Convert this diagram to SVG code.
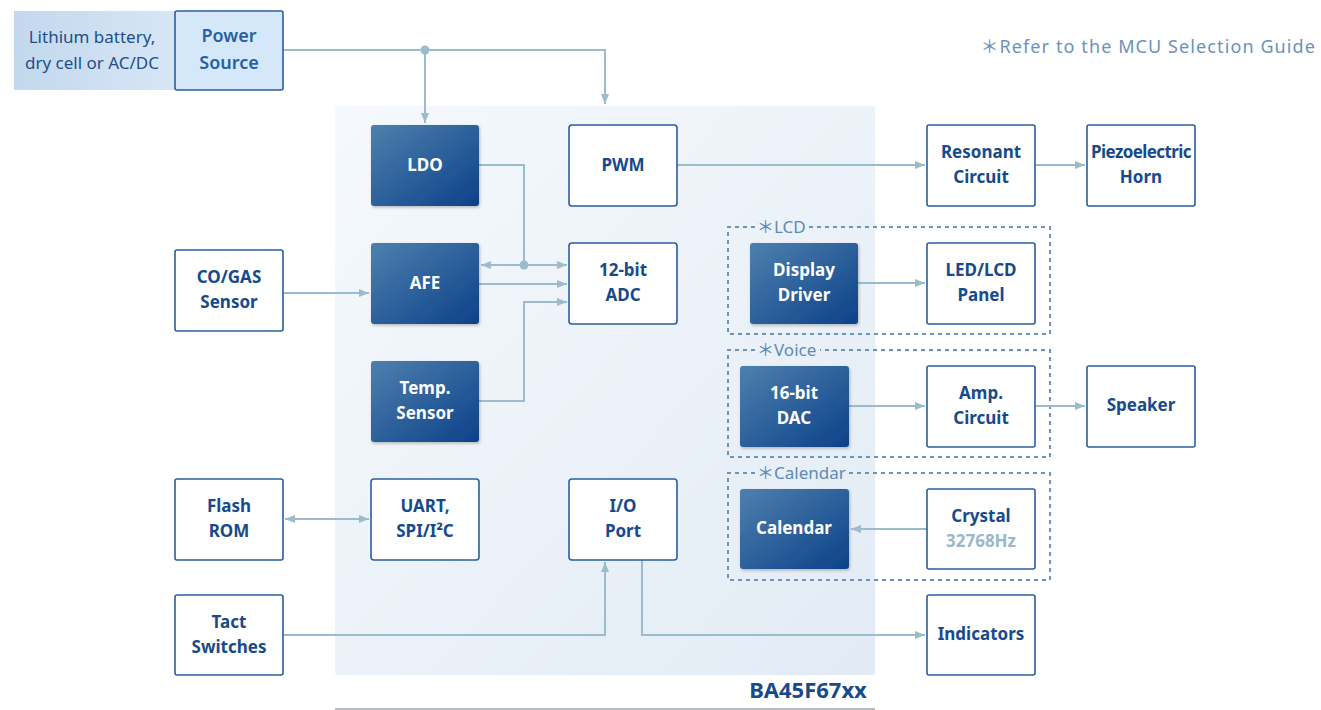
<svg xmlns="http://www.w3.org/2000/svg" width="1321" height="710" viewBox="0 0 1321 710">
<defs>
<linearGradient id="chip" x1="0" y1="0" x2="1" y2="1"><stop offset="0" stop-color="#f5f9fd"/><stop offset="1" stop-color="#e2ebf4"/></linearGradient>
<linearGradient id="dark" x1="0" y1="0" x2="1" y2="1"><stop offset="0" stop-color="#4e80ad"/><stop offset="1" stop-color="#0c4189"/></linearGradient>
<linearGradient id="pale" x1="0" y1="0" x2="1" y2="0"><stop offset="0" stop-color="#c3d8ee"/><stop offset="1" stop-color="#d6e6f5"/></linearGradient>
<marker id="ah" viewBox="0 0 10 10" refX="10" refY="5" markerWidth="10" markerHeight="10" markerUnits="userSpaceOnUse" orient="auto-start-reverse"><path d="M0,1 L10,5 L0,9 z" fill="#9bbccd"/></marker>
<filter id="sh" x="-10%" y="-10%" width="130%" height="130%"><feDropShadow dx="1" dy="1.5" stdDeviation="1.5" flood-color="#000" flood-opacity="0.25"/></filter>
</defs>
<style>
.w{fill:#fff;stroke:#2a5e9e;stroke-width:1.6}
.d{fill:url(#dark);filter:url(#sh)}
.t{font-family:"Noto Sans","DejaVu Sans",sans-serif;font-weight:bold;font-size:17px;fill:#174a8c;text-anchor:middle}
.tw{font-family:"Noto Sans","DejaVu Sans",sans-serif;font-weight:bold;font-size:17px;fill:#fff;text-anchor:middle}
.c{fill:none;stroke:#9bbccd;stroke-width:2}
.g{fill:none;stroke:#6e93bb;stroke-width:2;stroke-dasharray:4 4}
.gl{font-family:"Noto Sans","Noto Sans CJK KR",sans-serif;font-size:17px;fill:#5f8ab5}
.ast{font-family:"Noto Sans CJK KR","Noto Sans CJK JP",sans-serif}
</style>
<rect x="335" y="106" width="540" height="569" rx="3" fill="url(#chip)"/>
<line x1="335" y1="709" x2="875" y2="709" stroke="#9aa4ad" stroke-width="1.5"/>
<text x="808" y="698" font-family="'Noto Sans','DejaVu Sans',sans-serif" font-weight="bold" font-size="22" fill="#174a8c" text-anchor="middle">BA45F67xx</text>
<text x="1316" y="53" font-family="'Noto Sans','Noto Sans CJK KR',sans-serif" font-size="18" fill="#6a92bb" text-anchor="end" letter-spacing="1.1"><tspan class="ast">＊</tspan>Refer to the MCU Selection Guide</text>

<g id="groups">
<path class="g" d="M755,227 H728 V334 H1050 V227 H808"/>
<text class="gl" x="757" y="233"><tspan class="ast">＊</tspan>LCD</text>
<path class="g" d="M755,350 H728 V457 H1050 V350 H820"/>
<text class="gl" x="757" y="356"><tspan class="ast">＊</tspan>Voice</text>
<path class="g" d="M755,473 H728 V580 H1050 V473 H846"/>
<text class="gl" x="757" y="479"><tspan class="ast">＊</tspan>Calendar</text>
</g>

<g id="connectors">
<path class="c" d="M283,50 H605 V104" marker-end="url(#ah)"/>
<path class="c" d="M425,50 V123" marker-end="url(#ah)"/>
<circle cx="425" cy="50" r="4.5" fill="#9bbccd"/>
<path class="c" d="M479,165 H524 V265"/>
<path class="c" d="M524,265 H481" marker-end="url(#ah)"/>
<path class="c" d="M524,265 H567" marker-end="url(#ah)"/>
<circle cx="524" cy="265" r="4.5" fill="#9bbccd"/>
<path class="c" d="M479,284 H567" marker-end="url(#ah)"/>
<path class="c" d="M479,401 H524 V302 H567" marker-end="url(#ah)"/>
<path class="c" d="M283,293 H369" marker-end="url(#ah)"/>
<path class="c" d="M677,165 H925" marker-end="url(#ah)"/>
<path class="c" d="M1035,165 H1085" marker-end="url(#ah)"/>
<path class="c" d="M858,283 H925" marker-end="url(#ah)"/>
<path class="c" d="M849,406 H925" marker-end="url(#ah)"/>
<path class="c" d="M1035,406 H1085" marker-end="url(#ah)"/>
<path class="c" d="M927,529 H851" marker-end="url(#ah)"/>
<path class="c" d="M285,519 H369" marker-start="url(#ah)" marker-end="url(#ah)"/>
<path class="c" d="M283,635 H605 V562" marker-end="url(#ah)"/>
<path class="c" d="M642,560 V635 H925" marker-end="url(#ah)"/>
</g>

<g id="battery"><rect x="14" y="11" width="161" height="79" fill="url(#pale)"/>
<text x="92" y="43" font-family="'Noto Sans','DejaVu Sans',sans-serif" font-size="17" fill="#1e4f8a" text-anchor="middle">Lithium battery,</text>
<text x="92" y="69" font-family="'Noto Sans','DejaVu Sans',sans-serif" font-size="17" fill="#1e4f8a" text-anchor="middle">dry cell or AC/DC</text></g>
<g id="power"><rect x="175" y="11" width="108" height="79" rx="2" fill="#d4e8f9" stroke="#2a5e9e" stroke-width="1.6"/>
<text class="t" x="229" y="42" style="font-weight:600;font-size:18px;fill:#2760a6">Power</text><text class="t" x="229" y="69" style="font-weight:600;font-size:18px;fill:#2760a6">Source</text></g>

<g id="ldo"><rect class="d" x="371" y="125" width="108" height="81" rx="3"/><text class="tw" x="425" y="171">LDO</text></g>
<g id="afe"><rect class="d" x="371" y="243" width="108" height="81" rx="3"/><text class="tw" x="425" y="289">AFE</text></g>
<g id="temp"><rect class="d" x="371" y="361" width="108" height="81" rx="3"/><text class="tw" x="425" y="394">Temp.</text><text class="tw" x="425" y="419">Sensor</text></g>
<g id="uart"><rect class="w" x="371" y="479" width="108" height="81" rx="3"/><text class="t" x="425" y="512">UART,</text><text class="t" x="425" y="537">SPI/I²C</text></g>
<g id="pwm"><rect class="w" x="569" y="125" width="108" height="81" rx="3"/><text class="t" x="623" y="171">PWM</text></g>
<g id="adc"><rect class="w" x="569" y="243" width="108" height="81" rx="3"/><text class="t" x="623" y="276">12-bit</text><text class="t" x="623" y="301">ADC</text></g>
<g id="io"><rect class="w" x="569" y="479" width="108" height="81" rx="3"/><text class="t" x="623" y="512">I/O</text><text class="t" x="623" y="537">Port</text></g>
<g id="display"><rect class="d" x="750" y="243" width="108" height="81" rx="3"/><text class="tw" x="804" y="276">Display</text><text class="tw" x="804" y="301">Driver</text></g>
<g id="dac"><rect class="d" x="740" y="366" width="109" height="81" rx="3"/><text class="tw" x="794" y="399">16-bit</text><text class="tw" x="794" y="424">DAC</text></g>
<g id="calendar"><rect class="d" x="740" y="489" width="109" height="80" rx="3"/><text class="tw" x="794" y="534">Calendar</text></g>
<g id="resonant"><rect class="w" x="927" y="125" width="108" height="81" rx="2"/><text class="t" x="981" y="158">Resonant</text><text class="t" x="981" y="183">Circuit</text></g>
<g id="piezo"><rect class="w" x="1087" y="125" width="108" height="81" rx="2"/><text class="t" x="1141" y="158" style="letter-spacing:-0.6px">Piezoelectric</text><text class="t" x="1141" y="183">Horn</text></g>
<g id="cogas"><rect class="w" x="175" y="250" width="108" height="81" rx="2"/><text class="t" x="229" y="283">CO/GAS</text><text class="t" x="229" y="308">Sensor</text></g>
<g id="ledlcd"><rect class="w" x="927" y="243" width="108" height="81" rx="2"/><text class="t" x="981" y="276">LED/LCD</text><text class="t" x="981" y="301">Panel</text></g>
<g id="amp"><rect class="w" x="927" y="366" width="108" height="81" rx="2"/><text class="t" x="981" y="399">Amp.</text><text class="t" x="981" y="424">Circuit</text></g>
<g id="speaker"><rect class="w" x="1087" y="366" width="108" height="81" rx="2"/><text class="t" x="1141" y="411">Speaker</text></g>
<g id="crystal"><rect class="w" x="927" y="489" width="108" height="80" rx="2"/><text class="t" x="981" y="522">Crystal</text><text class="t" x="981" y="547" style="fill:#9bb8c8">32768Hz</text></g>
<g id="flash"><rect class="w" x="175" y="479" width="108" height="81" rx="2"/><text class="t" x="229" y="512">Flash</text><text class="t" x="229" y="537">ROM</text></g>
<g id="tact"><rect class="w" x="175" y="595" width="108" height="80" rx="2"/><text class="t" x="229" y="628">Tact</text><text class="t" x="229" y="653">Switches</text></g>
<g id="indicators"><rect class="w" x="927" y="595" width="108" height="80" rx="2"/><text class="t" x="981" y="640">Indicators</text></g>
</svg>
